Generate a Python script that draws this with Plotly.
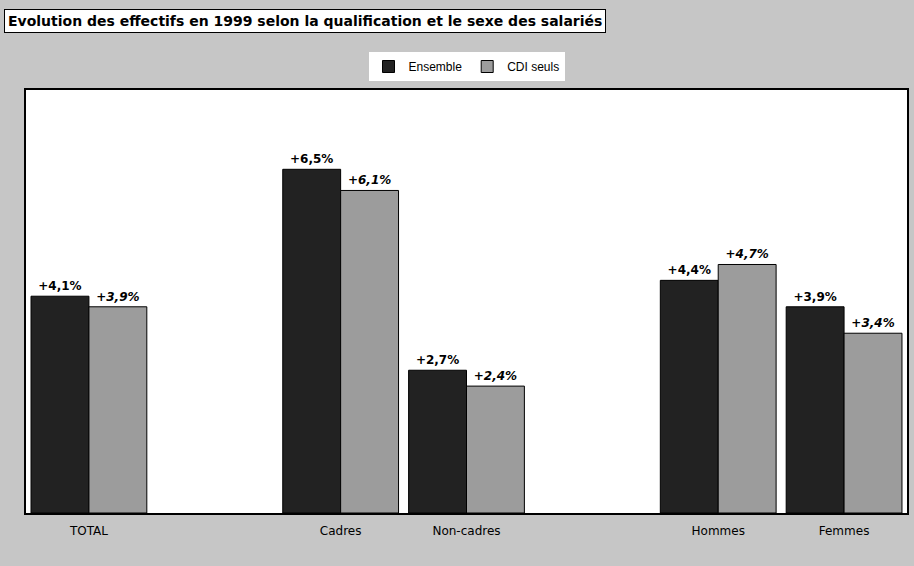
import plotly.graph_objects as go

categories = ["TOTAL", "Cadres", "Non-cadres", "Hommes", "Femmes"]
slots = [0, 2, 3, 5, 6]
ensemble = [4.1, 6.5, 2.7, 4.4, 3.9]
cdi_seuls = [3.9, 6.1, 2.4, 4.7, 3.4]

W, H = 914, 566
L, R, T, B = 26, 5, 90, 53
pw, ph = W - L - R, H - T - B

def px_x(px):
    return (px - L) / pw

def px_y(py):
    return (H - B - py) / ph

LBL = "DejaVu Sans, Liberation Sans, Arial"

fig = go.Figure()
fig.add_trace(go.Bar(
    x=slots, y=ensemble, name="Ensemble",
    marker=dict(color="#222222", line=dict(color="#000000", width=1)),
    texttemplate="+%{y:.1f}%", textposition="outside",
    textfont=dict(family=LBL, size=12, color="#000000", weight="bold"),
    cliponaxis=False,
))
fig.add_trace(go.Bar(
    x=slots, y=cdi_seuls, name="CDI seuls",
    marker=dict(color="#9c9c9c", line=dict(color="#000000", width=1)),
    texttemplate="+%{y:.1f}%", textposition="outside",
    textfont=dict(family=LBL, size=12, color="#000000",
                  weight="bold", style="italic"),
    cliponaxis=False,
))

fig.update_layout(
    width=W, height=H,
    margin=dict(l=L, r=R, t=T, b=B, pad=0),
    paper_bgcolor="#c6c6c6",
    plot_bgcolor="#ffffff",
    separators=", ",
    barmode="group",
    bargap=0.08,
    bargroupgap=0,
    font=dict(family="Liberation Sans, Arial", size=12, color="#000000"),
    showlegend=True,
    legend=dict(
        orientation="h", x=0.5, xanchor="center", y=px_y(52), yanchor="top",
        bgcolor="#ffffff", borderwidth=0,
        font=dict(size=12, color="#000000"),
        itemwidth=30, tracegroupgap=0,
    ),
    xaxis=dict(
        range=[-0.5, 6.5], tickmode="array", tickvals=slots, ticktext=categories,
        showgrid=False, zeroline=False, showline=True, linecolor="#000000",
        linewidth=2, mirror=True, ticks="", ticklabelstandoff=6,
        tickfont=dict(family=LBL, size=12, color="#000000"),
    ),
    yaxis=dict(
        range=[0, 8], showgrid=False, zeroline=False, showticklabels=False,
        showline=True, linecolor="#000000", linewidth=2, mirror=True, ticks="",
    ),
    annotations=[dict(
        text="<b>Evolution des effectifs en 1999 selon la qualification et le sexe des salariés</b>",
        xref="paper", yref="paper", x=px_x(4), y=px_y(9),
        xanchor="left", yanchor="top", showarrow=False,
        bgcolor="#ffffff", bordercolor="#000000", borderwidth=1, borderpad=3,
        font=dict(family=LBL, size=14, color="#000000"),
    )],
)

fig.write_html("out.html", config={"displayModeBar": False},
               post_script="document.body.style.margin='0';")
